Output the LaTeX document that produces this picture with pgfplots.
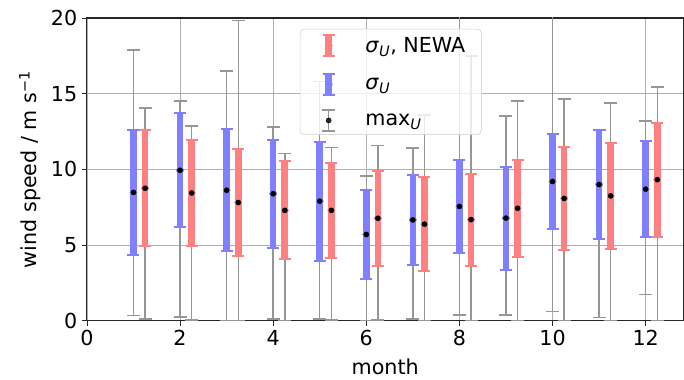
\documentclass[border=0pt]{standalone}
\usepackage{pgfplots}
\pgfplotsset{compat=1.18}
\usepackage{pgfplotstable}
\usepackage{fontspec}
\setmainfont{DejaVu Sans}
\definecolor{bbar}{RGB}{128,128,255}
\definecolor{rbar}{RGB}{255,128,128}
\definecolor{gbar}{RGB}{150,150,150}
\definecolor{gridc}{RGB}{176,176,176}

% blue: sigma_U  (x, mean, std, min, max)
\pgfplotstableread{
x m s lo hi
1 8.48 4.11 0.35 17.88
2 9.94 3.76 0.26 14.53
3 8.62 4.03 0.00 16.50
4 8.39 3.58 0.13 12.80
5 7.90 3.93 0.13 15.80
6 5.70 2.94 0.00 9.56
7 6.66 2.97 0.13 11.41
8 7.55 3.09 0.38 21.00
9 6.78 3.40 0.38 13.53
10 9.20 3.13 0.62 22.00
11 9.00 3.57 0.22 12.60
12 8.69 3.19 1.72 13.20
}\blueT
% red: sigma_U, NEWA
\pgfplotstableread{
x m s lo hi
1.25 8.75 3.83 0.13 14.04
2.25 8.44 3.52 0.04 12.87
3.25 7.81 3.55 0.00 19.82
4.25 7.29 3.23 0.00 11.06
5.25 7.29 3.16 0.04 11.43
6.25 6.77 3.13 0.04 11.57
7.25 6.38 3.11 0.00 13.60
8.25 6.68 3.04 0.00 17.50
9.25 7.43 3.21 0.00 14.53
10.25 8.08 3.40 0.00 14.66
11.25 8.25 3.50 0.00 14.37
12.25 9.32 3.76 0.00 15.45
}\redT

\begin{document}
\begin{tikzpicture}
\begin{axis}[
  name=ax,
  scale only axis,
  width=447.75pt, height=227.25pt,
  xmin=0, xmax=12.8125, ymin=0, ymax=20,
  xtick={0,2,...,12}, ytick={0,5,...,20},
  grid=major,
  grid style={gridc, line width=0.6pt},
  axis line style={black!85, line width=0.8pt},
  tick align=outside,
  xtick pos=bottom, ytick pos=left,
  major tick length=3.75pt,
  tick style={black!85, line width=0.6pt},
  font=\fontsize{15.5}{18.5}\selectfont,
  /pgf/number format/assume math mode=true,
  xlabel={month},
  ylabel={wind speed / m s\textsuperscript{−1}},
  every axis x label/.style={at={(axis description cs:0.5,-0.1518)}, anchor=center},
  every axis y label/.style={at={(axis description cs:-0.0955,0.5)}, rotate=90, anchor=center},
  legend style={at={(0.357,0.964)}, anchor=north west, draw=black!20,
    rounded corners=3pt, fill=white, fill opacity=0.8, text opacity=1,
    font=\fontsize{15.5}{18.5}\selectfont, row sep=8pt},
  legend cell align=left,
]
% min/max bars
\addplot[gbar, only marks, mark=none, forget plot,
  error bars/.cd, y dir=both, y explicit,
  error bar style={gbar, line width=1.1pt},
  error mark options={rotate=90, gbar, mark size=4.9pt, line width=1.1pt}]
  table[x=x, y=m, y error plus expr=\thisrow{hi}-\thisrow{m}, y error minus expr=\thisrow{m}-\thisrow{lo}] {\blueT};
\addplot[gbar, only marks, mark=none, forget plot,
  error bars/.cd, y dir=both, y explicit,
  error bar style={gbar, line width=1.1pt},
  error mark options={rotate=90, gbar, mark size=4.9pt, line width=1.1pt}]
  table[x=x, y=m, y error plus expr=\thisrow{hi}-\thisrow{m}, y error minus expr=\thisrow{m}-\thisrow{lo}] {\redT};
% std bars
\addplot[bbar, only marks, mark=*, mark size=2.7pt, mark options={fill=bbar, draw=none}, forget plot,
  error bars/.cd, y dir=both, y explicit,
  error bar style={bbar, line width=5pt},
  error mark options={rotate=90, bbar, mark size=4.5pt, line width=1.5pt}]
  table[x=x, y=m, y error=s] {\blueT};
\addplot[rbar, only marks, mark=*, mark size=2.7pt, mark options={fill=rbar, draw=none}, forget plot,
  error bars/.cd, y dir=both, y explicit,
  error bar style={rbar, line width=5pt},
  error mark options={rotate=90, rbar, mark size=4.5pt, line width=1.5pt}]
  table[x=x, y=m, y error=s] {\redT};
% mean dots
\addplot[black, only marks, mark=*, mark size=1.9pt, forget plot] table[x=x, y=m] {\blueT};
\addplot[black, only marks, mark=*, mark size=1.9pt, forget plot] table[x=x, y=m] {\redT};
% legend
\addlegendimage{legend image code/.code={
  \path[draw=none, fill=none] (0pt,0pt) -- (44pt,0pt);
  \draw[rbar, line width=5pt] (18.4pt,-8pt) -- (18.4pt,8pt);
  \draw[rbar, line width=1.5pt] (13.9pt,-8pt) -- (22.9pt,-8pt) (13.9pt,8pt) -- (22.9pt,8pt);
  \fill[rbar] (18.4pt,0) circle (2.7pt);
}}
\addlegendentry{\textit{σ}\textsubscript{\textit{U}}, NEWA\hspace*{7pt}}
\addlegendimage{legend image code/.code={
  \path[draw=none, fill=none] (0pt,0pt) -- (44pt,0pt);
  \draw[bbar, line width=5pt] (18.4pt,-8pt) -- (18.4pt,8pt);
  \draw[bbar, line width=1.5pt] (13.9pt,-8pt) -- (22.9pt,-8pt) (13.9pt,8pt) -- (22.9pt,8pt);
  \fill[bbar] (18.4pt,0) circle (2.7pt);
}}
\addlegendentry{\textit{σ}\textsubscript{\textit{U}}}
\addlegendimage{legend image code/.code={
  \path[draw=none, fill=none] (0pt,0pt) -- (44pt,0pt);
  \draw[gbar, line width=1.1pt] (18.4pt,-8pt) -- (18.4pt,8pt);
  \draw[gbar, line width=1.1pt] (13.5pt,-8pt) -- (23.3pt,-8pt) (13.5pt,8pt) -- (23.3pt,8pt);
  \fill[black] (18.4pt,0) circle (1.9pt);
}}
\addlegendentry{max\textsubscript{\textit{U}}}
\end{axis}
\pgfresetboundingbox
\path[use as bounding box] ([shift={(-65.25pt,-44.25pt)}]ax.south west) rectangle ([shift={(0.4pt,13.5pt)}]ax.north east);
\end{tikzpicture}
\end{document}
